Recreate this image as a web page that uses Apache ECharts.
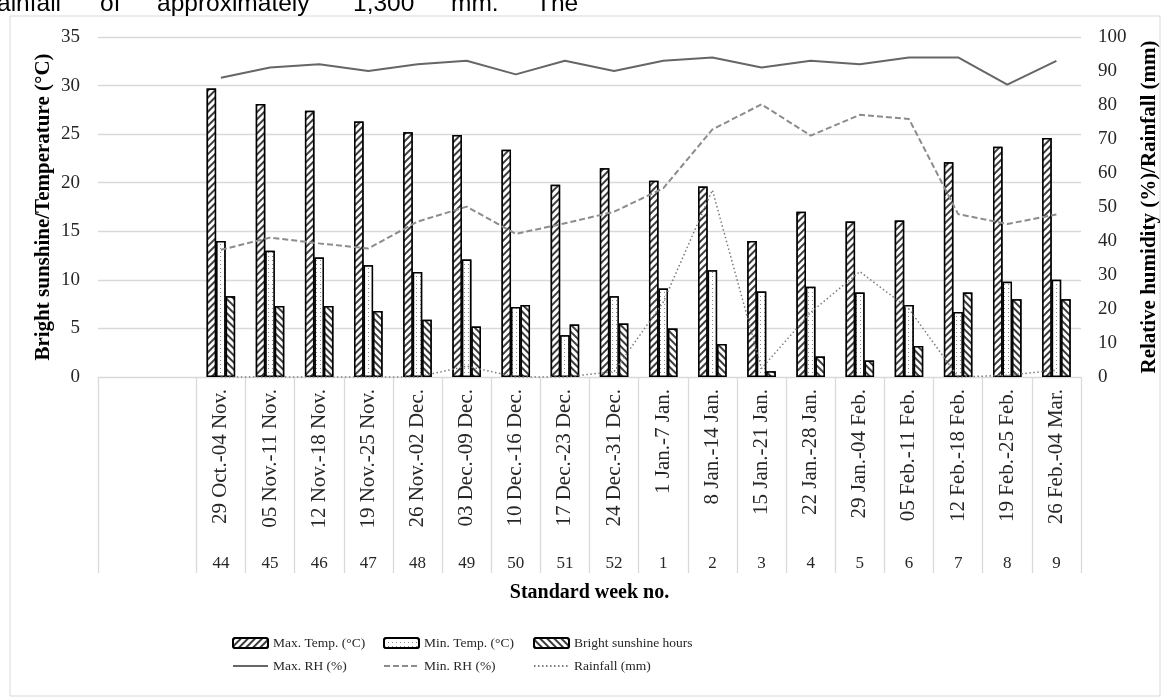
<!DOCTYPE html>
<html>
<head>
<meta charset="utf-8">
<script src="https://cdn.jsdelivr.net/npm/echarts@6/dist/echarts.min.js"></script>
<style>
html,body{margin:0;padding:0;background:#fff;}
#chart{width:1165px;height:699px;}
</style>
</head>
<body>
<div id="chart"></div>
<script>
const categories = ['29 Oct.-04 Nov.', '05 Nov.-11 Nov.', '12 Nov.-18 Nov.', '19 Nov.-25 Nov.', '26 Nov.-02 Dec.', '03 Dec.-09 Dec.', '10 Dec.-16 Dec.', '17 Dec.-23 Dec.', '24 Dec.-31 Dec.', '1 Jan.-7 Jan.', '8 Jan.-14 Jan.', '15 Jan.-21 Jan.', '22 Jan.-28 Jan.', '29 Jan.-04 Feb.', '05 Feb.-11 Feb.', '12 Feb.-18 Feb.', '19 Feb.-25 Feb.', '26 Feb.-04 Mar.'];
const weekNos = ['44', '45', '46', '47', '48', '49', '50', '51', '52', '1', '2', '3', '4', '5', '6', '7', '8', '9'];
const maxTemp = [29.7, 28.1, 27.4, 26.3, 25.2, 24.9, 23.4, 19.8, 21.5, 20.2, 19.6, 14.0, 17.0, 16.0, 16.1, 22.1, 23.7, 24.6];
const minTemp = [14.0, 13.0, 12.3, 11.5, 10.8, 12.1, 7.2, 4.3, 8.3, 9.1, 11.0, 8.8, 9.3, 8.7, 7.4, 6.7, 9.8, 10.0];
const sunshine = [8.3, 7.3, 7.3, 6.8, 5.9, 5.2, 7.4, 5.4, 5.5, 5.0, 3.4, 0.6, 2.1, 1.7, 3.2, 8.7, 8.0, 8.0];
const maxRH = [88, 91, 92, 90, 92, 93, 89, 93, 90, 93, 94, 91, 93, 92, 94, 94, 86, 93];
const minRH = [37.4, 41.0, 39.3, 37.8, 45.7, 50.1, 42.1, 45.2, 48.6, 55.5, 72.8, 80.2, 71.0, 77.1, 75.9, 47.9, 45.0, 47.8];
const rainfall = [0, 0, 0, 0, 0, 3.2, 0, 0, 1.6, 22, 55, 2.5, 19, 31, 20, 0, 0.5, 2];
const leftTicks = {min: 0, max: 35, interval: 5};
const rightTicks = {min: 0, max: 100, interval: 10};

// two blank leading categories form the empty first box of the axis
const pad = ['', ''];
const padNull = [null, null];
const xData = pad.concat(categories);
const xWeeks = pad.concat(weekNos);
const withPad = arr => padNull.concat(arr);

const FONT = 'Liberation Serif';
const TXT = '#262626';
const chart = echarts.init(document.getElementById('chart'));

const barBase = {
  type: 'bar', xAxisIndex: 0, yAxisIndex: 0, barWidth: 9.5, barGap: '0%'
};
const legendBase = {
  orient: 'vertical', top: 636, padding: 0, itemWidth: 35, itemHeight: 10, itemGap: 9,
  textStyle: {fontFamily: FONT, fontSize: 13.5, color: TXT, lineHeight: 14}
};
const hideSym = {opacity: 0};
const docText = (t, x, align) => ({
  type: 'text', x: x, y: 17,
  style: {text: t, fontFamily: 'Liberation Sans', fontSize: 24.5, fill: '#000', align: align || 'left', verticalAlign: 'bottom'}
});

chart.setOption({
  backgroundColor: '#fff',
  animation: false,
  graphic: [
    {type: 'rect', shape: {x: 10, y: 16, width: 1150, height: 680}, style: {fill: 'none', stroke: '#d9d9d9', lineWidth: 1}, silent: true},
    docText('ainfall', -3),
    docText('of', 100),
    docText('approximately', 157),
    docText('1,300', 353),
    docText('mm.', 451),
    docText('The', 536)
  ],
  grid: {left: 98, right: 84, top: 37, bottom: 322, containLabel: false, outerBoundsMode: 'none'},
  legend: [
    Object.assign({left: 232, data: ['Max. Temp. (°C)', {name: 'Max. RH (%)', itemStyle: hideSym}]}, legendBase),
    Object.assign({left: 383, data: ['Min. Temp. (°C)', {name: 'Min. RH (%)', itemStyle: hideSym}]}, legendBase),
    Object.assign({left: 533, data: ['Bright sunshine hours', {name: 'Rainfall (mm)', itemStyle: hideSym}]}, legendBase)
  ],
  xAxis: [
    {
      type: 'category', data: xData, position: 'bottom', boundaryGap: true,
      axisLine: {show: true, lineStyle: {color: '#d9d9d9', width: 1}},
      axisTick: {show: true, length: 196, interval: function (idx) { return idx !== 1; }, lineStyle: {color: '#d9d9d9', width: 1.3}},
      axisLabel: {interval: 0, rotate: 90, margin: 12, fontFamily: FONT, fontSize: 21, color: TXT},
      splitLine: {show: false}
    },
    {
      type: 'category', data: xWeeks, position: 'bottom', offset: 170,
      axisLine: {show: false}, axisTick: {show: false},
      axisLabel: {interval: 0, margin: 8, fontFamily: FONT, fontSize: 17, color: TXT},
      name: 'Standard week no.', nameLocation: 'middle', nameGap: 36,
      nameTextStyle: {fontFamily: FONT, fontSize: 20, fontWeight: 'bold', color: '#000'}
    }
  ],
  yAxis: [
    {
      type: 'value', position: 'left', min: leftTicks.min, max: leftTicks.max, interval: leftTicks.interval,
      axisLine: {show: false}, axisTick: {show: false},
      axisLabel: {margin: 18, fontFamily: FONT, fontSize: 19, color: TXT},
      splitLine: {show: true, lineStyle: {color: '#d9d9d9', width: 1.3}},
      name: 'Bright sunshine/Temperature (°C)', nameLocation: 'middle', nameGap: 44, nameRotate: 90, nameMoveOverlap: false,
      nameTextStyle: {fontFamily: FONT, fontSize: 21, fontWeight: 'bold', color: '#000'}
    },
    {
      type: 'value', position: 'right', min: rightTicks.min, max: rightTicks.max, interval: rightTicks.interval,
      axisLine: {show: false}, axisTick: {show: false},
      axisLabel: {margin: 17, fontFamily: FONT, fontSize: 19, color: TXT},
      splitLine: {show: false},
      name: 'Relative humidity (%)/Rainfall (mm)', nameLocation: 'middle', nameGap: 58, nameRotate: 90,
      nameTextStyle: {fontFamily: FONT, fontSize: 21, fontWeight: 'bold', color: '#000'}
    }
  ],
  series: [
    Object.assign({}, barBase, {
      name: 'Max. Temp. (°C)', data: withPad(maxTemp),
      itemStyle: {color: '#fff', borderColor: '#000', borderWidth: 1.5,
        decal: {symbol: 'rect', symbolSize: 1, color: '#3c3c3c', backgroundColor: '#fff', dashArrayX: [1, 0], dashArrayY: [1.2, 2.3], rotation: -Math.PI / 4}}
    }),
    Object.assign({}, barBase, {
      name: 'Min. Temp. (°C)', data: withPad(minTemp),
      itemStyle: {color: '#fff', borderColor: '#000', borderWidth: 1.5,
        decal: {symbol: 'rect', symbolSize: 1, color: '#8a8a8a', backgroundColor: '#fff', dashArrayX: [1, 3], dashArrayY: [1, 3], rotation: 0}}
    }),
    Object.assign({}, barBase, {
      name: 'Bright sunshine hours', data: withPad(sunshine),
      itemStyle: {color: '#fff', borderColor: '#000', borderWidth: 1.5,
        decal: {symbol: 'rect', symbolSize: 1, color: '#3c3c3c', backgroundColor: '#fff', dashArrayX: [1, 0], dashArrayY: [1.2, 2.8], rotation: Math.PI / 4}}
    }),
    {
      name: 'Max. RH (%)', type: 'line', xAxisIndex: 0, yAxisIndex: 1, data: withPad(maxRH),
      symbol: 'none', lineStyle: {color: '#666', width: 2, type: 'solid'}, itemStyle: {color: '#666'}, z: 5
    },
    {
      name: 'Min. RH (%)', type: 'line', xAxisIndex: 0, yAxisIndex: 1, data: withPad(minRH),
      symbol: 'none', lineStyle: {color: '#8c8c8c', width: 2, type: [6, 3]}, itemStyle: {color: '#8c8c8c'}, z: 5
    },
    {
      name: 'Rainfall (mm)', type: 'line', xAxisIndex: 0, yAxisIndex: 1, data: withPad(rainfall),
      symbol: 'none', lineStyle: {color: '#7a7a7a', width: 1.5, type: [1.5, 2.5]}, itemStyle: {color: '#7a7a7a'}, z: 5
    }
  ]
});
</script>
</body>
</html>
